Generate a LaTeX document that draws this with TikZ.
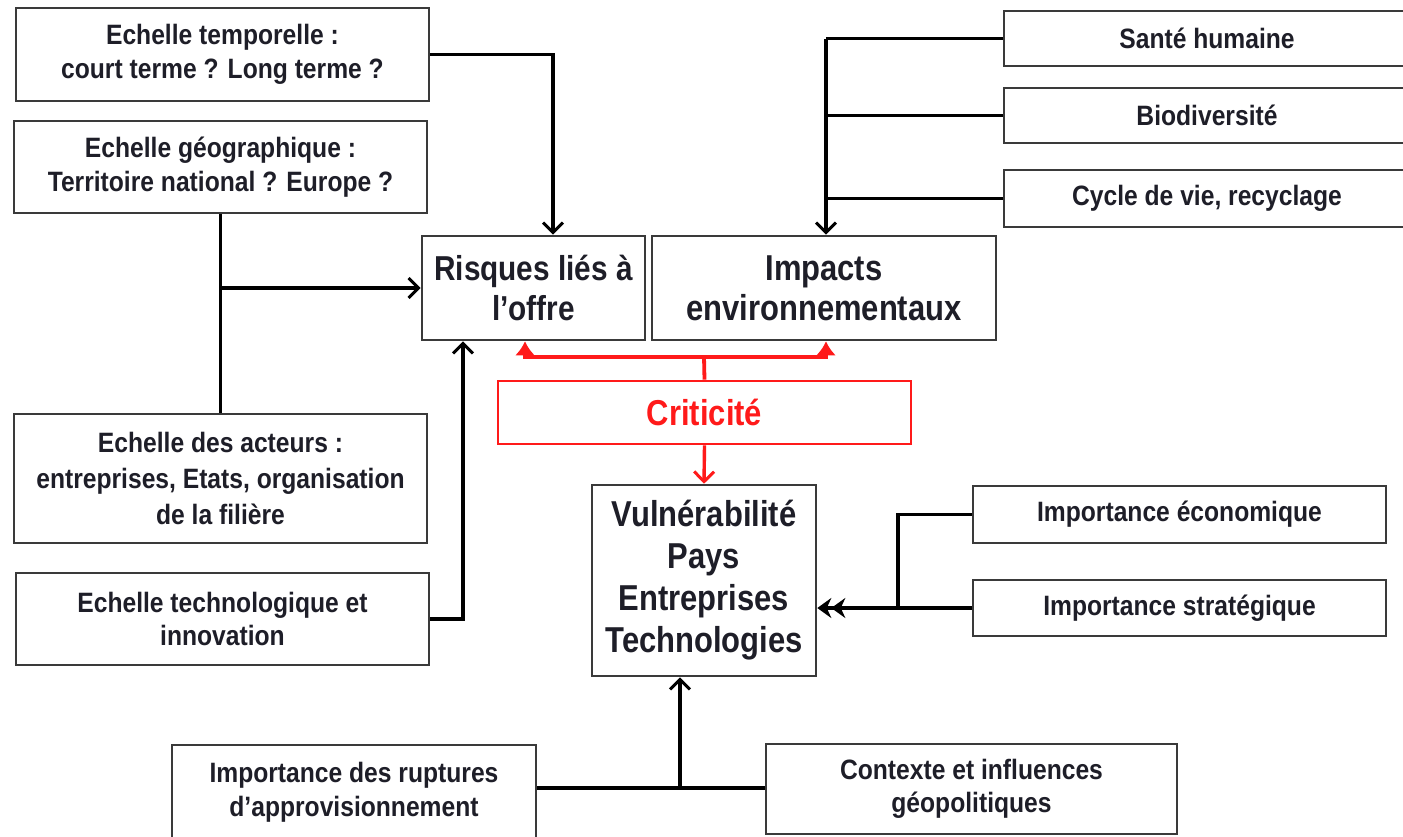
\documentclass[tikz,border=0pt]{standalone}
\usepackage{fontspec}
\setmainfont{Liberation Sans}
\newfontfamily\smallf{Liberation Sans}[FakeStretch=0.88]
\newfontfamily\bigf{Liberation Sans}[FakeStretch=0.86]
\usetikzlibrary{arrows.meta}
\definecolor{txt}{HTML}{1E1E28}
\definecolor{bord}{HTML}{3A3A3A}
\definecolor{crit}{HTML}{FF1A1A}
\begin{document}
\begin{tikzpicture}[x=0.5pt,y=-0.5pt,
  box/.style={draw=bord,line width=1.3pt,rectangle,inner sep=0pt,align=center,text=txt,
    font=\smallf\fontsize{14}{16.8}\selectfont\bfseries},
  bigbox/.style={box,font=\bigf\fontsize{18}{20}\selectfont\bfseries},
  conn/.style={line width=1.7pt,black},
  arr/.style={conn,-{Straight Barb[length=5pt,width=10pt,line width=1.5pt]}},
  dbl/.style={conn,-{Stealth[length=7pt,width=10pt]Stealth[length=7pt,width=10pt]}},
  redarr/.style={line width=1.9pt,crit,{Latex[length=7pt,width=10pt]}-{Latex[length=7pt,width=10pt]}},
  redone/.style={line width=1.7pt,crit,-{Straight Barb[length=5pt,width=10pt,line width=1.5pt]}}]
\useasboundingbox (0,0) rectangle (1403,836);
\fill[white] (0,0) rectangle (1403,836);
% nodes
\node[box,minimum width=206.5pt,minimum height=46.5pt] (T1) at (222.5,54.5) {Echelle temporelle :\\court terme ? Long terme ?};
\node[box,minimum width=206.5pt,minimum height=46pt] (T2) at (220.5,167) {Echelle géographique :\\Territoire national ? Europe ?};
\node[bigbox,minimum width=111.5pt,minimum height=52pt,font=\bigf\fontsize{17.3}{20}\selectfont\bfseries] (R) at (533.5,288) {Risques liés à\\l’offre};
\node[bigbox,minimum width=172pt,minimum height=52pt] (I) at (824,288) {Impacts\\environnementaux};
\node[box,minimum width=203pt,minimum height=27.5pt] (S1) at (1207,38.5) {Santé humaine};
\node[box,minimum width=203pt,minimum height=27.5pt] (S2) at (1207,115.5) {Biodiversité};
\node[box,minimum width=203pt,minimum height=28.5pt] (S3) at (1207,198.5) {Cycle de vie, recyclage};
\node[bigbox,draw=crit,text=crit,minimum width=206.5pt,minimum height=31.5pt] (C) at (704.5,412.5) {Criticité};
\node[box,minimum width=206.5pt,minimum height=64.5pt,font=\smallf\fontsize{14}{18}\selectfont\bfseries] (A) at (220.5,478.5) {Echelle des acteurs :\\entreprises, Etats, organisation\\de la filière};
\node[box,minimum width=206.5pt,minimum height=46pt] (Te) at (222.5,619) {Echelle technologique et\\innovation};
\node[bigbox,minimum width=112pt,minimum height=95.5pt,font=\bigf\fontsize{18}{21}\selectfont\bfseries] (V) at (704,580.5) {Vulnérabilité\\Pays\\Entreprises\\Technologies};
\node[box,minimum width=206.5pt,minimum height=28.5pt] (E) at (1179.5,514.5) {Importance économique};
\node[box,minimum width=206.5pt,minimum height=28pt] (St) at (1179.5,608) {Importance stratégique};
\node[box,minimum width=182pt,minimum height=47.5pt] (Ru) at (354,792.5) {Importance des ruptures\\d’approvisionnement};
\node[box,minimum width=205.5pt,minimum height=45pt] (Cx) at (971.5,789) {Contexte et influences\\géopolitiques};
% helper coordinates
\coordinate (xa) at (553,0);
\coordinate (xt) at (463,0);
\coordinate (xs) at (826,0);
\coordinate (rj) at (704,357);
\coordinate (rl) at (525,357);
\coordinate (rr) at (826,357);
\coordinate (xe) at (898,0);
\coordinate (jb) at (680,788);
% connectors
\draw[arr] (T1.east) -| (R.north -| xa);
\draw[conn] (T2.south) -- (A.north);
\draw[arr] (T2.south |- R.west) -- (R.west);
\draw[arr] (Te.east) -| (R.south -| xt);
\draw[conn] (S1.west) -- (S1.west -| xs);
\draw[conn] (S2.west) -- (S2.west -| xs);
\draw[conn] (S3.west) -- (S3.west -| xs);
\draw[arr] (S1.west -| xs) -- (I.north -| xs);
\draw[line width=1.9pt,crit] (C.north) -- (rj);
\draw[redarr] (R.south -| rl) -- (rl) -- (rr) -- (I.south -| rr);
\draw[redone] (C.south) -- (V.north);
\draw[conn] (E.west) -| (St.west -| xe);
\draw[dbl] (St.west) -- (V.east |- St.west);
\draw[conn] (Ru.east |- jb) -- (Cx.west |- jb);
\draw[arr] (jb) -- (V.south -| jb);
\end{tikzpicture}
\end{document}
